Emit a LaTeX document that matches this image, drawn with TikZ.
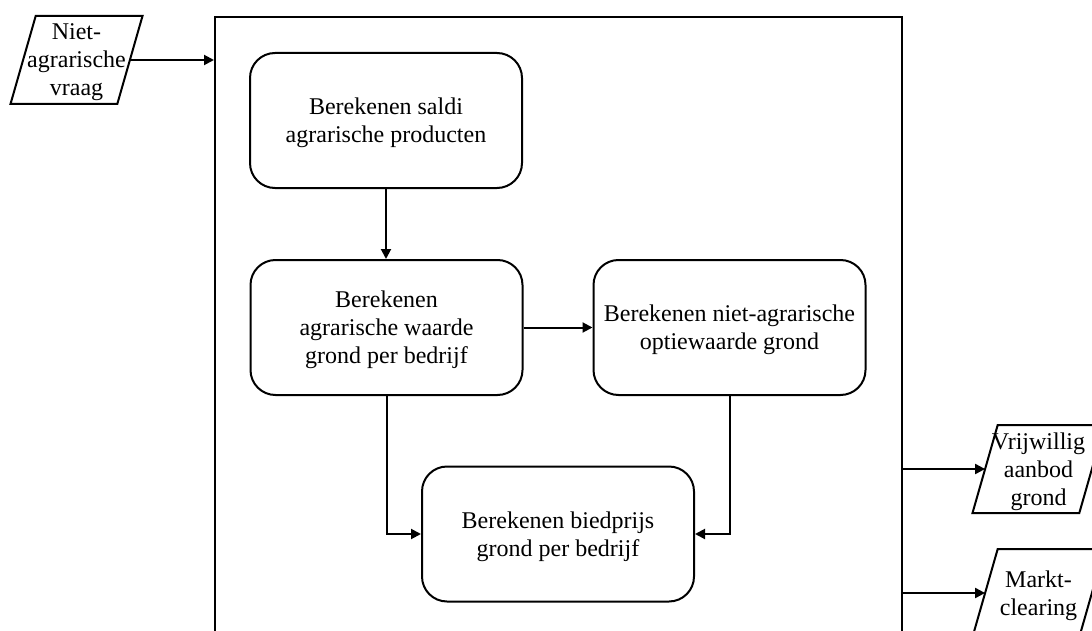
\documentclass[tikz,border=0pt]{standalone}
\usepackage{fontspec}
\setmainfont{Liberation Serif}
\usetikzlibrary{arrows.meta}
\begin{document}
\begin{tikzpicture}[x=0.5pt,y=-0.5pt,
  font=\fontsize{12}{14}\selectfont,
  % a reduced text depth sets the lines a little low in each box
  proc/.style={draw,line width=1pt,rounded corners=12.5pt,minimum width=136pt,
    minimum height=67.5pt,align=center,inner sep=2pt,text depth=-2pt},
  io/.style={minimum width=53.4pt,minimum height=44pt,inner sep=0pt,
    outer sep=0pt,align=center,text depth=-2pt},
  ioedge/.style={line width=1pt,line join=miter},
  flow/.style={line width=1pt,-{Triangle[length=5pt,width=5pt]}}]
  \clip (0,0) rectangle (1092,631);
  % model boundary
  \node[draw,line width=1pt,minimum width=343.5pt,minimum height=322pt,
    anchor=north west,inner sep=0pt] (model) at (214,16) {};
  % process steps
  \node[proc] (saldi) at (386,120.5) {Berekenen saldi\\agrarische producten};
  \node[proc] (agr) at (386.5,327.5) {Berekenen\\agrarische waarde\\grond per bedrijf};
  \node[proc] (opt) at (729.5,327.5) {Berekenen niet-agrarische\\optiewaarde grond};
  \node[proc] (bied) at (558,534) {Berekenen biedprijs\\grond per bedrijf};
  % inputs and outputs
  \node[io] (vraag) at (76.5,60) {Niet-\\agrarische\\vraag};
  \node[io] (aanbod) at (1038.5,469) {Vrijwillig\\aanbod\\grond};
  \node[io] (markt) at (1038.5,593) {Markt-\\clearing};
  % parallelogram outlines round the input/output nodes
  \foreach \n in {vraag,aanbod,markt}
    \draw[ioedge] ([xshift=-6.3pt]\n.south west) -- ([xshift=-6.3pt]\n.south east)
      -- ([xshift=6.3pt]\n.north east) -- ([xshift=6.3pt]\n.north west) -- cycle;
  % connectors
  \draw[flow] (vraag.east) -- (vraag.east -| model.west);
  \draw[flow] (saldi.south) -- (saldi.south |- agr.north);
  \draw[flow] (agr.east) -- (agr.east -| opt.west);
  \draw[flow] (agr.south) |- (bied.west);
  \draw[flow] (opt.south) |- (bied.east);
  \draw[flow] (model.east |- aanbod.west) -- (aanbod.west);
  \draw[flow] (model.east |- markt.west) -- (markt.west);
\end{tikzpicture}
\end{document}
